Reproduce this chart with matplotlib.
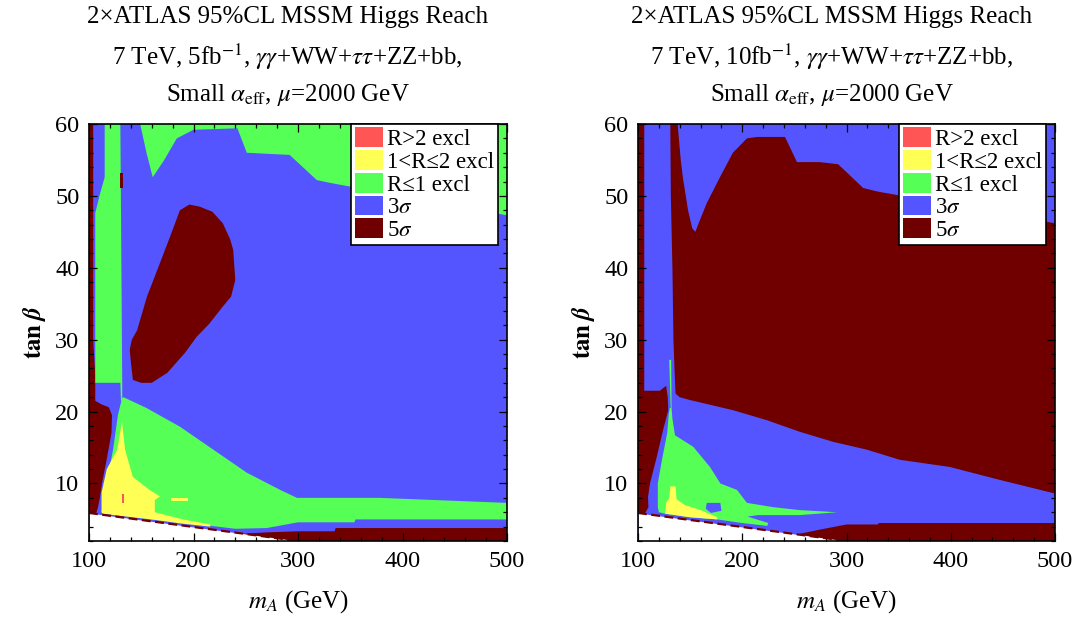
import matplotlib
matplotlib.use("Agg")
import matplotlib.pyplot as plt
from matplotlib.patches import Patch

plt.rcParams['font.family'] = ['Liberation Serif', 'DejaVu Serif']
plt.rcParams['mathtext.fontset'] = 'stix'

# ---------------- colours / legend ----------------
LEGEND_LABELS = ["R>2 excl", "1<R\u22642 excl", "R\u22641 excl", r"3$\sigma$", r"5$\sigma$"]
C_RED, C_YEL, C_GRN, C_BLU, C_DRK = "#FF5555", "#FFFF55", "#55FF55", "#5555FF", "#700000"

XLIM = (100, 500)
YLIM = (2, 60)
XTICKS = [100, 200, 300, 400, 500]
YTICKS = [10, 20, 30, 40, 50, 60]

# theoretically excluded (white) corner, common to both panels
WHITE_MA = [100, 300]
WHITE_TB = [5.9, 2.0]

# ---------------- left panel (5 fb^-1) region boundaries ----------------
L_DRK_LEFT_MA = [100, 104, 104, 106, 106, 112, 119, 122, 121.5, 117, 112.4, 110.5, 108.6, 107, 100]
L_DRK_LEFT_TB = [60, 60, 30, 25, 21.5, 21, 20.6, 19.5, 17, 13.4, 10, 8.1, 6.7, 5.9, 5.9]

L_GRN_STRIP_MA = [115, 130, 131, 131.8, 131.8, 130.6, 130, 106, 106, 110, 115]
L_GRN_STRIP_TB = [60, 60, 40, 24, 21.5, 21.5, 24, 24, 47.6, 50, 52.6]

L_DRK_SLIVER_MA = [130, 132.3, 132.3, 130]
L_DRK_SLIVER_TB = [53.2, 53.2, 51.1, 51.1]

L_GRN_TOP_MA = [149, 500, 500, 331, 318, 292, 251, 242, 200, 184, 172, 161, 155]
L_GRN_TOP_TB = [60, 60, 47.3, 51.8, 52.2, 55.7, 56, 59.4, 59.2, 58, 55, 52.6, 56]

L_BLOB_MA = [206, 218, 228, 235, 238, 240, 236, 228, 215, 203, 192, 175, 160, 150, 142, 140, 139, 141, 146, 155.5, 168, 177.5, 187, 196]
L_BLOB_TB = [48.5, 47.8, 46.2, 44, 42.5, 38.3, 36, 34.6, 32.2, 30.4, 28.2, 25.4, 24, 24, 24.4, 27, 28.6, 30, 31.3, 36, 40.7, 44.3, 48, 48.8]

L_GRN_MAIN_MA = [131.5, 133, 155, 187, 219, 251, 283, 299, 378, 500, 500, 355, 354, 300, 270, 240, 200, 160, 130, 112, 113, 112.4, 117, 123, 127.8]
L_GRN_MAIN_TB = [21.8, 22, 20.5, 17.9, 14.7, 11.5, 9.1, 8, 8, 7.3, 5.0, 5.0, 4.6, 4.6, 3.8, 3.7, 4.4, 5.0, 5.6, 6.0, 6.7, 8.1, 10, 14.7, 19.6]

L_YEL_MA = [131.6, 134.5, 142, 158, 168, 163, 163, 190, 216, 216, 190, 160, 130, 113, 112, 112, 117, 127]
L_YEL_TB = [18.6, 14.7, 10.9, 9.1, 8.2, 7.7, 6.0, 5.0, 4.3, 4.0, 4.4, 5.0, 5.5, 5.8, 6.0, 8.7, 12, 14.7]

L_YEL_DASH_MA = [178, 195, 195, 178]
L_YEL_DASH_TB = [7.6, 7.6, 8.0, 8.0]

L_RED_MA = [131.8, 133.4, 133.4, 131.8]
L_RED_TB = [7.3, 7.3, 8.6, 8.6]

L_DRK_BOT_MA = [245, 270, 300, 335, 336, 500, 500, 300]
L_DRK_BOT_TB = [3.0, 3.2, 3.35, 3.35, 3.8, 3.8, 1.0, 1.0]

# ---------------- right panel (10 fb^-1) region boundaries ----------------
R_DRK_LEFT_MA = [100, 106, 106, 121, 127, 128.5, 129, 124, 118, 111.5, 109.6, 110, 107, 100]
R_DRK_LEFT_TB = [60, 60, 22.9, 22.9, 23.6, 22, 20.2, 17.4, 13.7, 10, 8.1, 6.7, 5.9, 5.9]

R_DRK_BIG_MA = [131, 138, 141, 143, 148, 152, 155, 159, 166, 178.6, 191, 204.5, 214, 241, 252.5, 274.5, 292, 316, 330, 500,
                500, 447, 399, 351, 319.6, 287, 255, 223.7, 191, 150, 140, 136, 135, 134, 133, 131.5]
R_DRK_BIG_TB = [60, 60, 55, 52.6, 48, 45.5, 45, 46.5, 49, 52.6, 56, 58, 58.2, 58.2, 54.7, 54.7, 54.4, 51.1, 50.6, 46.2,
                8.6, 10.5, 12.3, 13.3, 14.7, 15.8, 17.2, 18.8, 20.2, 21.6, 22, 22.5, 26, 30, 40, 50]

R_GRN_SPIKE_MA = [130, 131.8, 132, 132.2, 131.4, 130.6]
R_GRN_SPIKE_TB = [27.2, 27.2, 24, 20.5, 20.5, 24]

R_GRN_MA = [132.2, 133, 135.5, 153, 169, 179, 195, 204.5, 230, 255, 291, 255, 215, 205, 225, 224, 200, 176, 150, 126, 120, 119, 119, 123, 128, 129.5, 130.5]
R_GRN_TB = [20.5, 19, 16.7, 15.1, 12.3, 10, 9.1, 7.3, 6.7, 6.3, 6.0, 5.6, 5.6, 5.4, 4.5, 4.1, 4.5, 5.0, 5.3, 5.8, 6.0, 6.7, 10, 13.3, 17, 19.6, 20.5]

R_BLU_HOLE_MA = [166, 179, 180, 170, 165]
R_BLU_HOLE_TB = [7.3, 7.3, 6.2, 5.9, 6.5]

R_YEL_MA = [131, 136, 137, 145, 160, 176, 176, 150, 126, 127, 130]
R_YEL_TB = [9.6, 9.6, 7.8, 7.0, 6.3, 5.3, 5.0, 5.3, 5.8, 7.3, 8]

R_DRK_BOT_MA = [255, 275, 300, 330, 331, 500, 500, 300]
R_DRK_BOT_TB = [3.0, 3.6, 4.3, 4.3, 4.5, 4.5, 1.0, 1.0]

TITLES_L = ["2\u00d7ATLAS 95%CL MSSM Higgs Reach",
            r"7 TeV, 5fb$^{-1}$, $\gamma\gamma$+WW+$\tau\tau$+ZZ+bb,",
            r"Small $\alpha_{\rm eff}$, $\mu$=2000 GeV"]
TITLES_R = ["2\u00d7ATLAS 95%CL MSSM Higgs Reach",
            r"7 TeV, 10fb$^{-1}$, $\gamma\gamma$+WW+$\tau\tau$+ZZ+bb,",
            r"Small $\alpha_{\rm eff}$, $\mu$=2000 GeV"]

fig = plt.figure(figsize=(10.77, 6.21), dpi=100)
axL = fig.add_axes([89/1077, 1-541/621, 418/1077, 417/621])
axR = fig.add_axes([638/1077, 1-541/621, 417/1077, 417/621])


def poly(ax, xs, ys, c):
    ax.fill(xs, ys, color=c, lw=0, antialiased=True)


def finish(ax, titles, title_x):
    # theoretically excluded corner
    ax.fill_between(WHITE_MA, WHITE_TB, 0, color="white", lw=0)
    ax.plot(WHITE_MA, WHITE_TB, color=C_DRK, lw=1.6, dashes=(4, 2))
    ax.set_xlim(*XLIM)
    ax.set_ylim(*YLIM)
    ax.set_xticks(XTICKS)
    ax.set_yticks(YTICKS)
    ax.set_xticks(range(100, 501, 20), minor=True)
    ax.set_yticks(range(2, 61, 2), minor=True)
    ax.tick_params(which="both", direction="in", top=True, right=True, labelsize=17.5, width=0.9)
    ax.tick_params(which="major", length=5.5, pad=7)
    ax.tick_params(which="minor", length=3)
    for s in ax.spines.values():
        s.set_linewidth(1.2)
    ax.set_xlabel(r"$m_A$ (GeV)", fontsize=18, labelpad=12)
    ax.set_ylabel(r"$\mathbf{tan}\;\boldsymbol{\beta}$", fontsize=18, labelpad=5)
    for t, yy in zip(titles, [1.2566, 1.1607, 1.0695]):
        ax.text(title_x, yy, t, transform=ax.transAxes, ha="center", va="center", fontsize=18)
    handles = [Patch(facecolor=c, edgecolor="none") for c in [C_RED, C_YEL, C_GRN, C_BLU, C_DRK]]
    leg = ax.legend(handles, LEGEND_LABELS, loc="upper right", bbox_to_anchor=(0.978, 1.0),
                    fontsize=16.5, frameon=True, fancybox=False, framealpha=1, edgecolor="black",
                    borderpad=0.15, labelspacing=0.0, handlelength=1.22, handleheight=0.95,
                    handletextpad=0.2, borderaxespad=0.0)
    leg.get_frame().set_linewidth(1.2)


# left panel
axL.set_facecolor(C_BLU)
poly(axL, L_DRK_LEFT_MA, L_DRK_LEFT_TB, C_DRK)
poly(axL, L_GRN_STRIP_MA, L_GRN_STRIP_TB, C_GRN)
poly(axL, L_DRK_SLIVER_MA, L_DRK_SLIVER_TB, C_DRK)
poly(axL, L_GRN_TOP_MA, L_GRN_TOP_TB, C_GRN)
poly(axL, L_BLOB_MA, L_BLOB_TB, C_DRK)
poly(axL, L_DRK_BOT_MA, L_DRK_BOT_TB, C_DRK)
poly(axL, L_GRN_MAIN_MA, L_GRN_MAIN_TB, C_GRN)
poly(axL, L_YEL_MA, L_YEL_TB, C_YEL)
poly(axL, L_YEL_DASH_MA, L_YEL_DASH_TB, C_YEL)
poly(axL, L_RED_MA, L_RED_TB, C_RED)
finish(axL, TITLES_L, 0.475)

# right panel
axR.set_facecolor(C_BLU)
poly(axR, R_DRK_LEFT_MA, R_DRK_LEFT_TB, C_DRK)
poly(axR, R_DRK_BIG_MA, R_DRK_BIG_TB, C_DRK)
poly(axR, R_DRK_BOT_MA, R_DRK_BOT_TB, C_DRK)
poly(axR, R_GRN_SPIKE_MA, R_GRN_SPIKE_TB, C_GRN)
poly(axR, R_GRN_MA, R_GRN_TB, C_GRN)
poly(axR, R_BLU_HOLE_MA, R_BLU_HOLE_TB, C_BLU)
poly(axR, R_YEL_MA, R_YEL_TB, C_YEL)
finish(axR, TITLES_R, 0.465)

fig.savefig("out.png", dpi=100, facecolor="white")
